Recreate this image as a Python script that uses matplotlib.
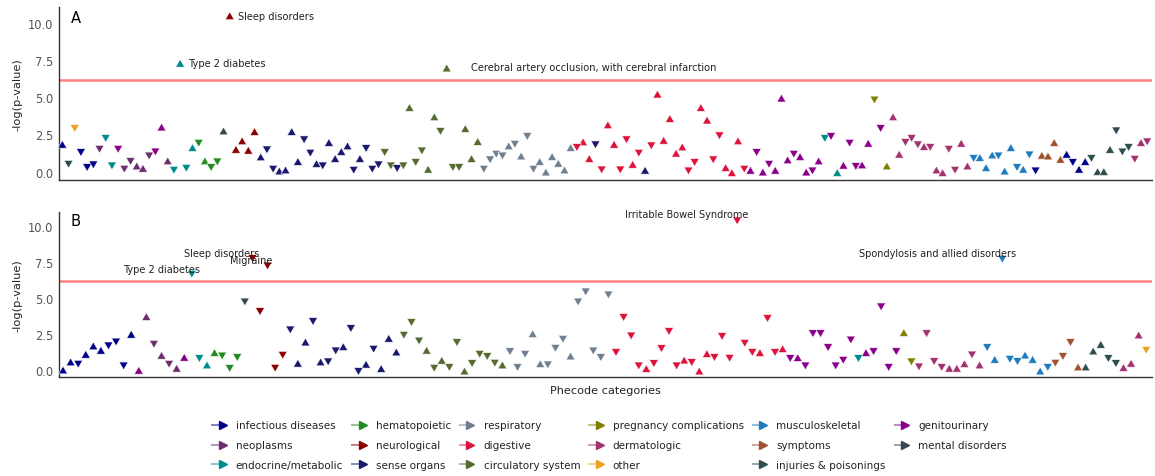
import matplotlib
matplotlib.use("Agg")
import matplotlib.pyplot as plt
from matplotlib.lines import Line2D
from matplotlib.legend_handler import HandlerBase
from matplotlib.colors import to_rgb
import numpy as np

# ---------------- data ----------------
categories = ['infectious diseases', 'neoplasms', 'endocrine/metabolic',
              'hematopoietic', 'neurological', 'sense organs',
              'respiratory', 'digestive', 'circulatory system',
              'pregnancy complications', 'dermatologic', 'other',
              'musculoskeletal', 'symptoms', 'injuries & poisonings',
              'genitourinary', 'mental disorders']
cat_codes = ['inf', 'neo', 'end', 'hem', 'neu', 'sen', 'res', 'dig', 'cir',
             'pre', 'der', 'oth', 'mus', 'sym', 'inj', 'gen', 'men']
cat_colors = ['#00008b', '#6d2e6d', '#008b8b', '#228b22', '#8b0000', '#191970',
              '#708090', '#dc143c', '#556b2f', '#808000', '#a3336f', '#eda020',
              '#1f7bbf', '#a0522d', '#2f4f4f', '#8b008b', '#37474f']

# Panel A
a_cat = ['inf', 'inj', 'oth', 'inf', 'inf', 'inf', 'neo', 'end', 'end', 'gen',
         'neo', 'neo', 'neo', 'neo', 'neo', 'gen', 'gen', 'neo', 'end', 'end',
         'end', 'end', 'hem', 'hem', 'hem', 'hem', 'men', 'neu', 'neu', 'neu',
         'neu', 'neu', 'sen', 'sen', 'sen', 'sen', 'sen', 'sen', 'sen', 'sen',
         'sen', 'sen', 'sen', 'sen', 'sen', 'sen', 'sen', 'sen', 'sen', 'sen',
         'sen', 'sen', 'cir', 'cir', 'sen', 'cir', 'cir', 'cir', 'cir', 'cir',
         'cir', 'cir', 'cir', 'cir', 'cir', 'cir', 'cir', 'cir', 'res', 'res',
         'res', 'res', 'res', 'res', 'res', 'res', 'res', 'res', 'res', 'res',
         'res', 'res', 'res', 'dig', 'dig', 'dig', 'sen', 'dig', 'dig', 'dig',
         'dig', 'dig', 'dig', 'dig', 'sen', 'dig', 'dig', 'dig', 'dig', 'dig',
         'dig', 'dig', 'dig', 'dig', 'dig', 'dig', 'dig', 'dig', 'dig', 'dig',
         'dig', 'gen', 'gen', 'gen', 'gen', 'gen', 'gen', 'gen', 'gen', 'gen',
         'gen', 'gen', 'gen', 'end', 'gen', 'end', 'gen', 'gen', 'gen', 'gen',
         'gen', 'pre', 'gen', 'pre', 'der', 'der', 'der', 'der', 'der', 'der',
         'der', 'der', 'der', 'der', 'der', 'der', 'der', 'mus', 'mus', 'mus',
         'mus', 'mus', 'mus', 'mus', 'mus', 'mus', 'mus', 'inf', 'sym', 'sym',
         'sym', 'sym', 'inf', 'inf', 'inf', 'inf', 'inj', 'inj', 'inj', 'inj',
         'men', 'inj', 'inj', 'der', 'der', 'der']
a_logp = [1.84, 0.49, 2.90, 1.28, 0.27, 0.45, 1.50, 2.23, 0.38, 1.50,
          0.16, 0.68, 0.38, 0.22, 1.05, 1.32, 3.00, 0.72, 0.09, 7.30,
          0.22, 1.62, 1.91, 0.72, 0.27, 0.65, 2.74, 10.50, 1.50, 2.07,
          1.44, 2.70, 0.99, 1.46, 0.16, 0.04, 0.11, 2.70, 0.68, 2.14,
          1.24, 0.54, 0.38, 1.96, 0.88, 1.35, 1.73, 0.09, 0.88, 1.55,
          0.16, 0.45, 1.28, 0.38, 0.20, 0.38, 4.32, 0.61, 1.39, 0.16,
          3.69, 2.70, 6.98, 0.27, 0.27, 2.90, 0.88, 2.03, 0.16, 0.79,
          1.17, 1.05, 1.73, 1.84, 1.05, 2.36, 0.16, 0.68, -0.03, 1.01,
          0.56, 0.11, 1.62, 1.62, 2.00, 0.88, 1.80, 0.11, 3.15, 1.84,
          0.11, 2.14, 0.49, 1.24, 0.09, 1.73, 5.22, 2.11, 3.58, 1.24,
          1.66, 0.04, 0.61, 4.32, 3.47, 0.79, 2.41, 0.27, -0.07, 2.07,
          0.16, 0.09, 1.28, -0.03, 0.49, 0.09, 4.95, 0.79, 1.17, 1.01,
          -0.03, 0.04, 0.72, 2.23, 2.36, -0.07, 0.43, 1.91, 0.34, 0.45,
          1.91, 4.82, 2.90, 0.38, 3.69, 1.17, 1.96, 2.23, 1.80, 1.69,
          1.62, 0.11, -0.07, 1.50, 0.09, 1.91, 0.38, 0.88, 0.95, 0.27,
          1.12, 1.05, 0.04, 1.62, 0.27, 0.16, 1.12, 0.04, 1.10, 1.05,
          1.96, 0.83, 1.17, 0.61, 0.16, 0.68, 0.88, 0.00, 0.00, 1.50,
          2.74, 1.32, 1.62, 0.83, 1.96, 2.00]
a_dir = [1, -1, -1, -1, -1, -1, -1, -1, -1, -1,
         -1, -1, 1, 1, -1, -1, 1, 1, -1, 1,
         -1, 1, -1, 1, -1, -1, 1, 1, 1, 1,
         1, 1, 1, -1, -1, 1, 1, 1, 1, -1,
         -1, 1, -1, 1, 1, 1, 1, -1, 1, -1,
         -1, -1, -1, -1, -1, -1, 1, -1, -1, 1,
         1, -1, 1, -1, -1, 1, 1, 1, -1, -1,
         -1, -1, 1, -1, 1, -1, -1, 1, 1, 1,
         1, 1, 1, -1, 1, 1, -1, -1, 1, 1,
         -1, -1, 1, -1, 1, -1, 1, 1, 1, 1,
         1, -1, -1, 1, 1, -1, -1, 1, 1, 1,
         -1, 1, -1, 1, -1, 1, 1, 1, -1, 1,
         1, -1, 1, -1, -1, 1, 1, -1, -1, 1,
         1, -1, -1, 1, 1, 1, -1, -1, -1, 1,
         -1, 1, 1, -1, -1, 1, 1, -1, 1, 1,
         1, -1, 1, 1, -1, 1, -1, -1, 1, 1,
         1, 1, 1, -1, 1, 1, -1, 1, 1, 1,
         -1, -1, -1, -1, 1, -1]
a_label_idx = [27, 19, 62]
a_label_text = ['Sleep disorders', 'Type 2 diabetes',
                'Cerebral artery occlusion, with cerebral infarction']
a_label_dx = [1.35, 1.35, 4.0]
a_label_dy = [0.0, 0.0, 0.09]

# Panel B
b_cat = ['inf', 'inf', 'inf', 'inf', 'inf', 'inf', 'inf', 'inf', 'inf', 'inf',
         'gen', 'neo', 'neo', 'neo', 'neo', 'neo', 'gen', 'end', 'end', 'end',
         'hem', 'hem', 'hem', 'hem', 'men', 'neu', 'neu', 'neu', 'neu', 'neu',
         'sen', 'sen', 'sen', 'sen', 'sen', 'sen', 'sen', 'sen', 'sen', 'sen',
         'sen', 'sen', 'sen', 'sen', 'sen', 'cir', 'cir', 'cir', 'cir', 'cir',
         'cir', 'cir', 'cir', 'cir', 'cir', 'cir', 'cir', 'cir', 'cir', 'res',
         'res', 'res', 'res', 'res', 'res', 'res', 'res', 'res', 'res', 'res',
         'res', 'res', 'res', 'dig', 'dig', 'dig', 'dig', 'dig', 'dig', 'dig',
         'dig', 'dig', 'dig', 'dig', 'dig', 'dig', 'dig', 'dig', 'dig', 'dig',
         'dig', 'dig', 'dig', 'dig', 'dig', 'dig', 'gen', 'gen', 'gen', 'gen',
         'gen', 'gen', 'gen', 'gen', 'gen', 'end', 'gen', 'gen', 'gen', 'gen',
         'gen', 'pre', 'pre', 'der', 'der', 'der', 'der', 'der', 'der', 'der',
         'der', 'der', 'mus', 'mus', 'mus', 'mus', 'mus', 'mus', 'mus', 'mus',
         'mus', 'sym', 'sym', 'sym', 'sym', 'inj', 'inj', 'inj', 'inj', 'inj',
         'der', 'der', 'der', 'oth']
b_logp = [0.00, 0.56, 0.40, 1.09, 1.67, 1.37, 1.67, 1.94, 0.28, 2.48,
          -0.02, 3.71, 1.78, 1.02, 0.40, 0.12, 0.88, 6.65, 0.79, 0.35,
          1.21, 0.97, 0.10, 0.86, 4.72, 7.74, 4.05, 7.22, 0.12, 1.02,
          2.78, 0.47, 1.94, 3.36, 0.56, 0.56, 1.32, 1.62, 2.87, -0.11,
          0.40, 1.44, 0.10, 2.20, 1.25, 2.41, 3.29, 2.01, 1.37, 0.12,
          0.67, 0.17, 1.90, -0.07, 0.44, 1.09, 0.93, 0.47, 0.35, 1.27,
          0.17, 1.09, 2.52, 0.44, 0.35, 1.50, 2.13, 0.97, 4.72, 5.42,
          1.32, 0.86, 5.21, 1.21, 3.64, 2.36, 0.28, 0.10, 0.44, 1.48,
          2.67, 0.28, 0.69, 0.51, -0.07, 1.14, 0.86, 2.32, 0.81, 10.35,
          1.85, 1.21, 1.21, 3.57, 1.21, 1.48, 0.79, 0.86, 0.28, 2.52,
          2.52, 1.55, 0.28, 0.67, 2.08, 0.79, 1.21, 1.27, 4.38, 0.17,
          1.27, 2.60, 0.56, 0.21, 2.52, 0.58, 0.17, 0.12, 0.12, 0.44,
          1.04, 0.35, 1.55, 0.74, 7.69, 0.74, 0.58, 1.04, 0.74, -0.07,
          0.17, 0.47, 0.93, 1.90, 0.21, 0.21, 1.32, 1.78, 0.79, 0.44,
          0.17, 0.47, 2.43, 1.37]
b_dir = [1, 1, -1, 1, 1, 1, -1, -1, -1, 1,
         1, 1, -1, 1, -1, 1, 1, -1, -1, 1,
         1, -1, -1, -1, -1, -1, -1, -1, -1, -1,
         -1, 1, 1, -1, 1, -1, -1, 1, -1, -1,
         1, -1, 1, 1, 1, -1, -1, -1, 1, -1,
         1, -1, -1, 1, -1, -1, -1, -1, 1, -1,
         -1, -1, 1, 1, -1, -1, -1, 1, -1, -1,
         -1, -1, -1, -1, -1, -1, -1, 1, -1, -1,
         -1, -1, 1, -1, 1, 1, -1, -1, -1, -1,
         -1, -1, 1, -1, -1, 1, -1, 1, -1, -1,
         -1, -1, -1, -1, -1, -1, 1, -1, -1, -1,
         -1, 1, -1, -1, -1, -1, -1, 1, 1, 1,
         -1, 1, -1, 1, -1, -1, -1, 1, 1, 1,
         -1, -1, -1, -1, 1, 1, 1, 1, -1, -1,
         1, 1, 1, -1]
b_label_idx = [17, 25, 27, 89, 124]
b_label_text = ['Type 2 diabetes', 'Sleep disorders', 'Migraine',
                'Irritable Bowel Syndrome', 'Spondylosis and allied disorders']
b_label_dx = [-4.0, -4.06, -2.2, -6.65, -8.5]
b_label_dy = [0.38, 0.36, 0.40, 0.46, 0.46]

threshold = 6.2

# ---------------- drawing ----------------
color_of = dict(zip(cat_codes, cat_colors))
up_marker = [(0, 0.5), (-0.577, -0.5), (0.577, -0.5), (0, 0.5)]
down_marker = [(0, -0.5), (-0.577, 0.5), (0.577, 0.5), (0, -0.5)]

fig = plt.figure(figsize=(11.55, 4.77), dpi=100)
axA = fig.add_axes([0.0513, 0.6205, 0.9457, 0.3624])
axB = fig.add_axes([0.0513, 0.2075, 0.9457, 0.3460])


def draw_panel(ax, cats, logp, dirs, ylim, letter, letter_y):
    x = np.arange(len(logp))
    logp = np.asarray(logp)
    dirs = np.asarray(dirs)
    cols = [color_of[c] for c in cats]
    for d, m in ((1, up_marker), (-1, down_marker)):
        sel = dirs == d
        ax.scatter(x[sel], logp[sel], marker=m, s=42,
                   c=[cols[i] for i in np.where(sel)[0]],
                   edgecolors='white', linewidths=0.4, zorder=3)
    ax.axhline(threshold, color='#ff7272', lw=1.8, alpha=0.9, zorder=2)
    ax.set_xlim(-0.5, len(logp) - 0.3)
    ax.set_ylim(*ylim)
    ax.set_yticks([0, 2.5, 5, 7.5, 10])
    ax.set_yticklabels(['0.0', '2.5', '5.0', '7.5', '10.0'])
    ax.set_xticks([])
    ax.tick_params(axis='y', length=0, pad=4.5, labelsize=8.3,
                   labelcolor='#555555')
    for s in ('top', 'right'):
        ax.spines[s].set_visible(False)
    for s in ('left', 'bottom'):
        ax.spines[s].set_color('#333333')
        ax.spines[s].set_linewidth(1.0)
    ax.set_ylabel('-log(p-value)', fontsize=8.2, color='#222222', labelpad=4)
    ax.text(0.0104, letter_y, letter, transform=ax.transAxes, fontsize=10.6,
            va='top', ha='left', color='black')
    return x, logp


xA, yA = draw_panel(axA, a_cat, a_logp, a_dir, (-0.57, 11.08), 'A', 0.985)
for i, t, dx, dy in zip(a_label_idx, a_label_text, a_label_dx, a_label_dy):
    axA.text(xA[i] + dx, yA[i] + dy, t, fontsize=7.1, ha='left',
             va='center', color='#222222')

xB, yB = draw_panel(axB, b_cat, b_logp, b_dir, (-0.49, 10.97), 'B', 0.995)
for i, t, dx, dy in zip(b_label_idx, b_label_text, b_label_dx, b_label_dy):
    axB.text(xB[i] + dx, yB[i] + dy, t, fontsize=7.0, ha='center',
             va='center', color='#222222')
axB.set_xlabel('Phecode categories', fontsize=8.1, color='#222222', labelpad=6)


# legend: light line with a right-pointing marker at its right end
class ArrowHandler(HandlerBase):
    def create_artists(self, legend, orig_handle, xdescent, ydescent,
                       width, height, fontsize, trans):
        y = 0.5 * height - ydescent
        x0 = -xdescent
        x1 = -xdescent + width
        line = Line2D([x0, x1 - 3], [y, y], color=orig_handle.get_color(),
                      lw=orig_handle.get_linewidth())
        mk = Line2D([x1 - 3.5], [y], linestyle='none', marker='>',
                    markersize=orig_handle.get_markersize(),
                    markerfacecolor=orig_handle.get_markerfacecolor(),
                    markeredgecolor=orig_handle.get_markeredgecolor())
        line.set_transform(trans)
        mk.set_transform(trans)
        return [line, mk]


handles = []
for name, c in zip(categories, cat_colors):
    light = tuple(0.5 * np.array(to_rgb(c)) + 0.5)
    h = Line2D([0, 1], [0, 0], color=light, lw=1.4, marker='>',
               markersize=6, markerfacecolor=c, markeredgecolor=c)
    handles.append(h)
fig.legend(handles, categories, ncol=6, loc='upper left',
           bbox_to_anchor=(0.1835, 0.117), frameon=False, fontsize=7.45,
           handler_map={Line2D: ArrowHandler()},
           handlelength=1.5, handletextpad=0.8,
           columnspacing=0.85, labelspacing=0.96, borderpad=0,
           borderaxespad=0, labelcolor='#222222')

fig.savefig('out.png', dpi=100)
